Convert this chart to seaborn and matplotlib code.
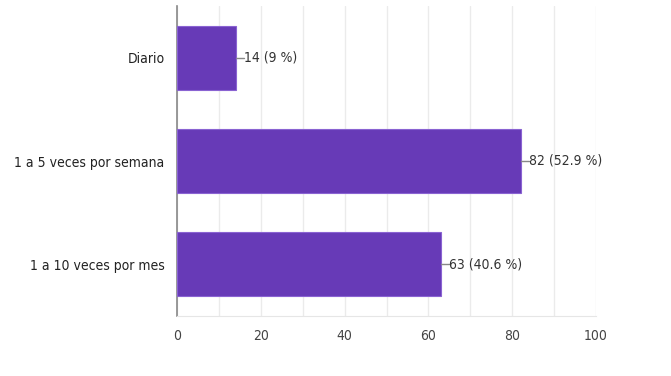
import matplotlib
matplotlib.use("Agg")
import matplotlib.pyplot as plt
import seaborn as sns
import pandas as pd

categories = ["Diario", "1 a 5 veces por semana", "1 a 10 veces por mes"]
counts = [14, 82, 63]
percents = ["9 %", "52.9 %", "40.6 %"]
xticks = [0, 20, 40, 60, 80, 100]

sns.set_style("white")
plt.rcParams['font.family'] = ['DejaVu Sans']
plt.rcParams['font.stretch'] = 'condensed'

df = pd.DataFrame({"cat": categories, "n": counts})

fig = plt.figure(figsize=(6.71, 3.76), dpi=100)
ax = fig.add_axes([177/671, 1-316/376, (596-177)/671, (316-6)/376])

sns.barplot(data=df, y="cat", x="n", color="#673ab7", saturation=1, width=0.62,
            edgecolor="#8a63d2", linewidth=0.8, ax=ax, zorder=3)

ax.set_xlim(0, 100)
ax.set_ylim(2.5, -0.5)
ax.set_xticks(xticks)
ax.set_xticks(range(0, 101, 10), minor=True)
ax.grid(True, axis="x", which="both", color="#ebebeb", linewidth=1, zorder=0)
ax.set_xlabel("")
ax.set_ylabel("")
for s in ["top", "right"]:
    ax.spines[s].set_visible(False)
ax.spines["bottom"].set_color("#e6e6e6")
ax.spines["left"].set_color("#888888")
ax.spines["left"].set_linewidth(1.2)
ax.tick_params(axis="both", which="both", length=0)
ax.tick_params(axis="x", pad=9, labelsize=10, labelcolor="#444444")
ax.tick_params(axis="y", pad=9, labelsize=10, labelcolor="#222222")
for lbl in ax.get_xticklabels() + ax.get_yticklabels():
    lbl.set_fontstretch('condensed')

for i, (c, p) in enumerate(zip(counts, percents)):
    ax.plot([c, c + 2], [i, i], color="#888888", linewidth=1, zorder=4)
    ax.text(c + 2, i, f"{c} ({p})", va="center", ha="left", fontsize=10,
            color="#333333", zorder=4, fontstretch='condensed')

fig.savefig("out.png", dpi=100)
